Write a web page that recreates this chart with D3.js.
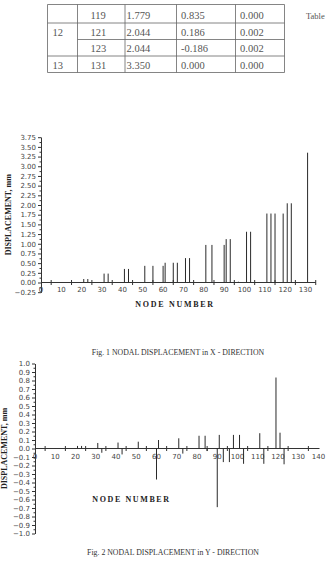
<!DOCTYPE html>
<html>
<head>
<meta charset="utf-8">
<script src="https://cdn.jsdelivr.net/npm/d3@7"></script>
<style>
body { margin: 0; background: #fff; }
svg { display: block; }
</style>
</head>
<body>
<div id="page"></div>
<script>
// table fragment at the top of the page
const tblGroup = ['', '12', '', '13']
const tblNode = ['119', '121', '123', '131']
const tblDx = ['1.779', '2.044', '2.044', '3.350']
const tblDy = ['0.835', '0.186', '-0.186', '0.000']
const tblDz = ['0.000', '0.002', '0.002', '0.000']

// fig 1 - displacement in x
const nodesX = [21, 23, 31, 33, 41, 43, 51, 55, 60, 61, 65, 67, 71, 73, 81, 84, 90, 91, 93, 97, 101, 103, 111, 113, 115, 119, 121, 123, 131]
const dispX = [0.09, 0.09, 0.23, 0.23, 0.35, 0.35, 0.43, 0.43, 0.43, 0.51, 0.51, 0.51, 0.63, 0.63, 0.97, 0.97, 0.97, 1.12, 1.12, 0.02, 1.31, 1.31, 1.78, 1.78, 1.78, 1.779, 2.044, 2.044, 3.350]
const yTicksX = [-0.25, 0, 0.25, 0.5, 0.75, 1, 1.25, 1.5, 1.75, 2, 2.25, 2.5, 2.75, 3, 3.25, 3.5, 3.75]
const xLabelsX = [0, 10, 20, 30, 40, 50, 60, 70, 80, 90, 100, 110, 120, 130]
const xMarksX = [5, 15, 25, 35, 45, 55, 65, 75, 85, 95, 105, 115, 125, 135]

// fig 2 - displacement in y
const nodesY = [21, 23, 31, 33, 41, 43, 51, 60, 61, 71, 73, 81, 84, 85, 90, 91, 93, 96, 98, 101, 103, 111, 113, 119, 121, 123]
const dispY = [0.03, 0.03, 0.065, -0.05, 0.07, -0.07, 0.08, -0.365, 0.10, 0.12, -0.06, 0.15, 0.15, -0.03, -0.69, 0.16, -0.16, -0.16, 0.16, 0.16, -0.18, 0.18, -0.18, 0.835, 0.186, -0.186]
const yTicksY = [-1, -0.9, -0.8, -0.7, -0.6, -0.5, -0.4, -0.3, -0.2, -0.1, 0, 0.1, 0.2, 0.3, 0.4, 0.5, 0.6, 0.7, 0.8, 0.9, 1]
const xLabelsY = [0, 10, 20, 30, 40, 50, 60, 70, 80, 90, 100, 110, 120, 130, 140]
const xMarksY = [5, 15, 25, 35, 45, 55, 65, 75, 85, 95, 105, 115, 125, 135]

const W = 327, H = 564
const ink = '#333'
const serif = '"Liberation Serif", "Times New Roman", serif'
const sans = '"DejaVu Sans", Verdana, sans-serif'

const svg = d3.select('#page').append('svg')
    .attr('width', W)
    .attr('height', H)

// ---- table
const colX = [47.5, 77.5, 125, 176.5, 235.5, 284.5]
const rowY = [4.5, 23, 39.5, 56, 72.5]
const tblG = svg.append('g')
    .attr('stroke', '#666')
    .attr('stroke-width', 0.8)
colX.forEach(cx => tblG.append('line')
    .attr('x1', cx).attr('x2', cx)
    .attr('y1', rowY[0]).attr('y2', rowY[4]))
rowY.forEach((ry, i) => tblG.append('line')
    .attr('x1', i === 2 ? colX[1] : colX[0]).attr('x2', colX[5])
    .attr('y1', ry).attr('y2', ry))

const cols = [
    { vals: tblGroup, x: 52.5 },
    { vals: tblNode, x: 90.5 },
    { vals: tblDx, x: 126.5 },
    { vals: tblDy, x: 181 },
    { vals: tblDz, x: 240 }
]
const textY = [15.7, 32, 48.5, 65]
cols.forEach(c => {
    svg.append('g').selectAll('text')
        .data(c.vals)
        .join('text')
        .attr('x', c.x)
        .attr('y', (d, i) => textY[i] + 3.5)
        .attr('font-family', serif)
        .attr('font-size', 10.5)
        .attr('fill', '#555')
        .text(d => d)
})
// page text at the right edge
svg.append('text')
    .attr('x', 306)
    .attr('y', 19)
    .attr('font-family', serif)
    .attr('font-size', 8.5)
    .attr('fill', '#555')
    .text('Table')

// ---- stem chart
function stemChart({ nodes, disp, x, y, yTicks, yFormat, xLabels, xMarks, xEnd, labDy }) {
    const g = svg.append('g')
    const minor = yTicks.slice(1).map((v, i) => (v + yTicks[i]) / 2)

    const yMinorAxis = g.append('g')
        .attr('transform', `translate(${x(0)},0)`)
        .call(d3.axisLeft(y).tickValues(minor).tickSize(1.5).tickSizeOuter(0).tickFormat(''))
    const yAxis = g.append('g')
        .attr('transform', `translate(${x(0)},0)`)
        .call(d3.axisLeft(y).tickValues(yTicks).tickSize(3).tickSizeOuter(0).tickPadding(2).tickFormat(yFormat))
    ;[yMinorAxis, yAxis].forEach(a => {
        a.selectAll('path, line').attr('stroke', ink)
        a.selectAll('text')
            .attr('font-family', sans)
            .attr('font-size', 7)
            .attr('fill', '#444')
    })

    // x axis line with marks across it
    g.append('line')
        .attr('x1', x(0)).attr('x2', x(xEnd))
        .attr('y1', y(0)).attr('y2', y(0))
        .attr('stroke', ink)
    g.selectAll('.xmark')
        .data(xMarks)
        .join('line')
        .attr('class', 'xmark')
        .attr('x1', d => x(d)).attr('x2', d => x(d))
        .attr('y1', y(0) - 2.5).attr('y2', y(0) + 2.5)
        .attr('stroke', ink)
    g.selectAll('.xlab')
        .data(xLabels)
        .join('text')
        .attr('class', 'xlab')
        .attr('x', d => x(d))
        .attr('y', y(0) + labDy)
        .attr('text-anchor', 'middle')
        .attr('font-family', sans)
        .attr('font-size', 7)
        .attr('fill', '#444')
        .text(d => d)

    // stems
    g.selectAll('.stem')
        .data(nodes)
        .join('line')
        .attr('class', 'stem')
        .attr('x1', d => x(d)).attr('x2', d => x(d))
        .attr('y1', y(0))
        .attr('y2', (d, i) => y(disp[i]))
        .attr('stroke', '#2a2a2a')
        .attr('stroke-width', 1)
    return g
}

function boldLabel(txt, x, y, rot, spacing) {
    svg.append('text')
        .attr('transform', `translate(${x},${y})${rot ? ' rotate(-90)' : ''}`)
        .attr('text-anchor', 'middle')
        .attr('font-family', serif)
        .attr('font-weight', 'bold')
        .attr('font-size', 8)
        .attr('letter-spacing', spacing)
        .attr('fill', '#222')
        .text(txt)
}
function caption(txt, x, y) {
    svg.append('text')
        .attr('x', x)
        .attr('y', y)
        .attr('text-anchor', 'middle')
        .attr('font-family', serif)
        .attr('font-size', 7.8)
        .attr('fill', '#333')
        .text(txt)
}

// fig 1
const x1 = d3.scaleLinear().domain([0, 135]).range([41, 41 + 135 * 2.035])
const y1 = d3.scaleLinear().domain([-0.25, 3.75]).range([292.2, 137.2])
stemChart({
    nodes: nodesX, disp: dispX, x: x1, y: y1,
    yTicks: yTicksX, yFormat: d3.format('.2f'),
    xLabels: xLabelsX, xMarks: xMarksX, xEnd: 135, labDy: 9
})
boldLabel('DISPLACEMENT, mm', 10.5, 214.7, true, 0)
boldLabel('NODE NUMBER', 175, 306.5, false, 1.7)
caption('Fig. 1 NODAL DISPLACEMENT in X - DIRECTION', 178, 355)

// fig 2
const x2 = d3.scaleLinear().domain([0, 140.5]).range([35, 35 + 140.5 * 2.025])
const y2 = d3.scaleLinear().domain([-1, 1]).range([533.5, 363.5])
stemChart({
    nodes: nodesY, disp: dispY, x: x2, y: y2,
    yTicks: yTicksY, yFormat: d3.format('.1f'),
    xLabels: xLabelsY, xMarks: xMarksY, xEnd: 140.5, labDy: 10
})
boldLabel('DISPLACEMENT, mm', 7, 448.5, true, 0)
boldLabel('NODE NUMBER', 131.5, 502, false, 1.6)
caption('Fig. 2 NODAL DISPLACEMENT in Y - DIRECTION', 173, 555)
</script>
</body>
</html>
